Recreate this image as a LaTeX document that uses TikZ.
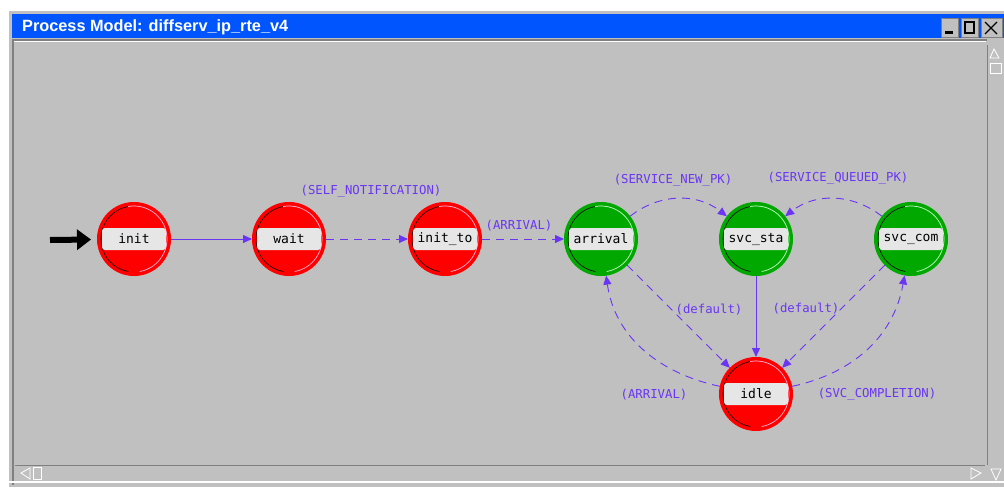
\documentclass[tikz,border=0pt]{standalone}
\usepackage{fontspec}
\usepackage{tikz}
\usetikzlibrary{arrows.meta,calc}
\setmainfont{Liberation Sans}
\newfontfamily\monofont{DejaVu Sans Mono}
\newfontfamily\titlefont{Liberation Sans}
\definecolor{canvas}{HTML}{C0C0C0}
\definecolor{titleblue}{HTML}{0055FF}
\definecolor{stred}{HTML}{FF0000}
\definecolor{stgreen}{HTML}{00A800}
\definecolor{band}{HTML}{E6E6E6}
\definecolor{trcol}{HTML}{6A35F5}
\definecolor{pinkring}{HTML}{FFB8DC}
\definecolor{greenring}{HTML}{C8FFC8}
\definecolor{darkedge}{HTML}{808080}
\newcommand{\nodefont}{\monofont\fontsize{13}{15}\selectfont}
\newcommand{\labelfont}{\monofont\fontsize{12.3}{14}\selectfont}

\begin{document}
\begin{tikzpicture}[x=1pt,y=1pt,>=Stealth]
  \path[use as bounding box,fill=white] (0,0) rectangle (1004,-490);
  \tikzset{
    stnode/.style={circle,minimum size=73pt,inner sep=0pt,line width=1pt,font=\nodefont,
      path picture={
        \coordinate (c) at (path picture bounding box.center);
        \draw[black,line width=0.6pt] (c) ++(100:33pt) arc[start angle=100,end angle=260,radius=33pt];
        \draw[#1,line width=0.7pt] (c) ++(-80:33pt) arc[start angle=-80,end angle=100,radius=33pt];
        \fill[band,rounded corners=3pt] ($(c)+(-32pt,-11pt)$) rectangle ($(c)+(32pt,11pt)$);
      }},
    redstate/.style={stnode=pinkring,fill=stred,draw=stred},
    greenstate/.style={stnode=greenring,fill=stgreen,draw=stgreen},
    trans/.style={draw=trcol,line width=0.9pt,-{Triangle[length=9pt,width=8pt]}},
    dtrans/.style={trans,dash pattern=on 8pt off 6pt},
    tlabel/.style={font=\labelfont,text=trcol,inner sep=1pt},
    winbtn/.style={fill=canvas,draw=darkedge,line width=0.8pt}
  }
  % window frame
  \fill[canvas] (8,-10) rectangle (1004,-487);
  \draw[white,line width=1pt] (8,-487) -- (8,-10) -- (1004,-10);
  \fill[titleblue] (12,-14) rectangle (1004,-38);
  \node[anchor=west,text=white,font=\titlefont\bfseries\fontsize{16.3}{19}\selectfont,inner sep=0pt] (title) at (22,-27) {Process Model: diffserv\_ip\_rte\_v4};
  \draw[darkedge,line width=1.2pt] (13,-485) -- (13,-40) -- (987,-40);
  \draw[white,line width=0.8pt] (14,-41) -- (986,-41);
  % title buttons
  \draw[winbtn] (941,-18) rectangle (958,-37);
  \fill[black] (945,-31) rectangle (953,-34);
  \draw[winbtn] (961,-18) rectangle (978,-37);
  \draw[black,line width=1.2pt] (965,-22) rectangle (974,-33);
  \draw[winbtn] (981,-18) rectangle (1002,-37);
  \draw[black,line width=1.3pt] (985,-22) -- (997,-34) (997,-22) -- (985,-34);
  % scroll bars
  \draw[darkedge,line width=1pt] (987,-45) -- (987,-465);
  \draw[white,line width=0.8pt] (994,-49) -- (990,-58) -- (999,-58) -- cycle;
  \draw[white,line width=0.8pt] (990,-63) rectangle (1001,-73);
  \draw[darkedge,line width=1pt] (15,-465) -- (985,-465);
  \draw[white,line width=1.2pt] (8,-482) -- (1004,-482);
  \draw[white,line width=0.8pt] (30,-468) -- (21,-473) -- (30,-479) -- cycle;
  \draw[white,line width=0.8pt] (33,-467) rectangle (41,-479);
  \draw[white,line width=0.8pt] (971,-468) -- (981,-473) -- (971,-479) -- cycle;
  \draw[white,line width=0.8pt] (991,-469) -- (1001,-469) -- (996,-480) -- cycle;

  % states
  \node[redstate] (init) at (134,-239) {init};
  \node[redstate] (wait) at (289,-239) {wait};
  \node[redstate] (initto) at (445,-239) {init\_to};
  \node[greenstate] (arrival) at (601,-239) {arrival};
  \node[greenstate] (svcsta) at (756,-239) {svc\_sta};
  \node[greenstate] (svccom) at (911,-239) {svc\_com};
  \node[redstate] (idle) at (756,-394) {idle};

  % initial arrow
  \coordinate (entry) at (50,-240);
  \draw[black,line width=6pt,-{Triangle[length=14pt,width=20pt]},shorten >=6pt] (entry) -- (init);

  % transitions
  \draw[trans] (init) -- (wait);
  \draw[dtrans] (wait) -- (initto);
  \draw[dtrans] (initto) -- (arrival);
  \draw[dtrans] (arrival) to[bend left=38] (svcsta);
  \draw[dtrans] (svccom) to[bend right=38] (svcsta);
  \draw[trans] (svcsta) -- (idle);
  \draw[dtrans] (arrival) -- (idle);
  \draw[dtrans] (svccom) -- (idle);
  \draw[dtrans] (idle) to[out=168,in=-82] (arrival);
  \draw[dtrans] (idle) to[out=12,in=-100] (svccom);

  % transition labels
  \node[tlabel] (lself) at (371,-191) {(SELF\_NOTIFICATION)};
  \node[tlabel] (larr) at (519,-226) {(ARRIVAL)};
  \node[tlabel] (lnew) at (673,-180) {(SERVICE\_NEW\_PK)};
  \node[tlabel] (lqueued) at (838,-178) {(SERVICE\_QUEUED\_PK)};
  \node[tlabel] (ldefa) at (709,-310) {(default)};
  \node[tlabel] (ldefb) at (806,-309) {(default)};
  \node[tlabel] (larrb) at (654,-395) {(ARRIVAL)};
  \node[tlabel] (lcompl) at (877,-394) {(SVC\_COMPLETION)};
\end{tikzpicture}
\end{document}
